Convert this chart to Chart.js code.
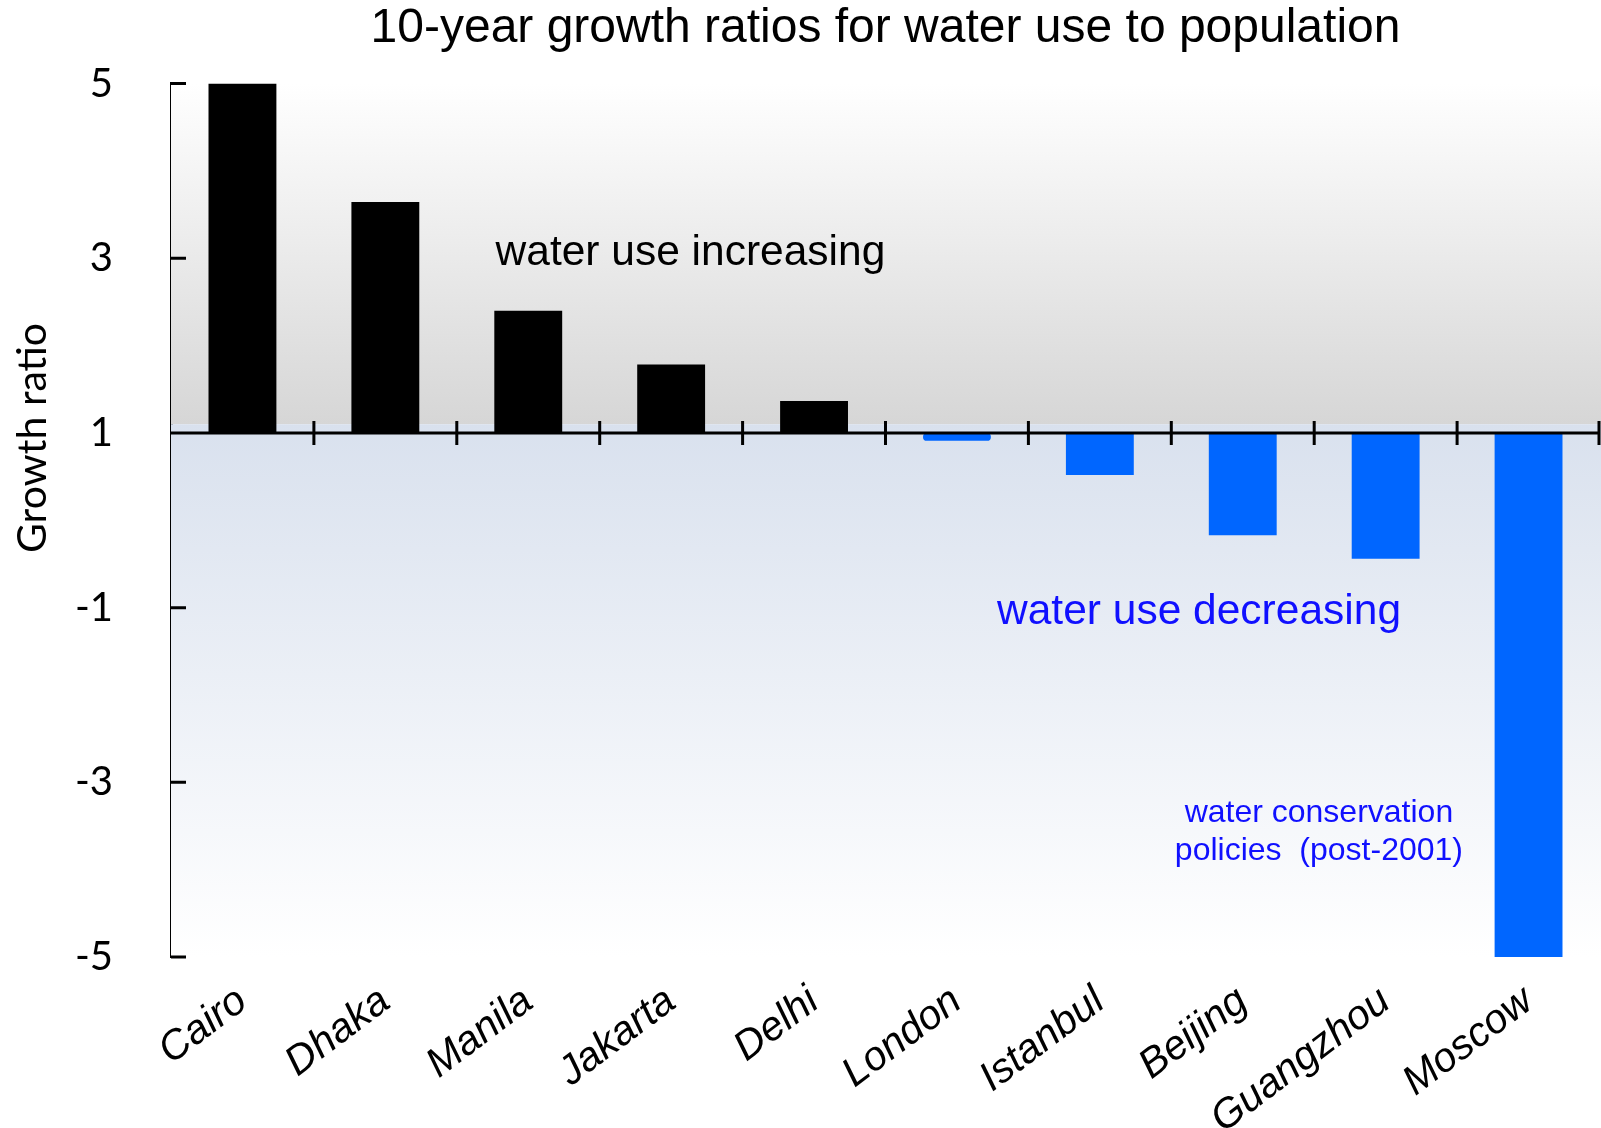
<!DOCTYPE html>
<html>
<head>
<meta charset="utf-8">
<script src="https://cdn.jsdelivr.net/npm/chart.js@4.4.0/dist/chart.umd.min.js"></script>
<style>
  html, body { margin: 0; padding: 0; background: #fff; }
</style>
</head>
<body>
<canvas id="growthChart" width="1601" height="1128"></canvas>
<script>
// values (bars start at a growth ratio of 1)
const cities = ["Cairo", "Dhaka", "Manila", "Jakarta", "Delhi", "London", "Istanbul", "Beijing", "Guangzhou", "Moscow"]
const growthRatios = [5, 3.645, 2.4, 1.785, 1.365, 0.91, 0.52, -0.17, -0.44, -5]
const yTicks = [5, 3, 1, -1, -3, -5]
const baseRatio = 1

const upColor = "#000000"
const downColor = "#0066ff"
const noteBlue = "#1010ff"

// background bands, axis-on-baseline, inward ticks and the notes
const decorations = {
  id: "decorations",
  beforeDatasetsDraw(chart) {
    const { ctx, chartArea, scales: { y } } = chart
    const top = y.getPixelForValue(5)
    const mid = y.getPixelForValue(1.1)
    const bottom = y.getPixelForValue(-5)
    const w = chart.width - chartArea.left

    ctx.save()
    let g = ctx.createLinearGradient(0, top, 0, mid)
    g.addColorStop(0, "#ffffff")
    g.addColorStop(1, "#d6d6d6")
    ctx.fillStyle = g
    ctx.fillRect(chartArea.left, top, w, mid - top)

    g = ctx.createLinearGradient(0, mid, 0, bottom)
    g.addColorStop(0, "#d9e1ee")
    g.addColorStop(1, "#ffffff")
    ctx.fillStyle = g
    ctx.fillRect(chartArea.left, mid, w, bottom - mid)
    ctx.restore()
  },
  afterDatasetsDraw(chart) {
    const { ctx, chartArea, scales: { x, y } } = chart
    const yBase = y.getPixelForValue(baseRatio)

    ctx.save()
    ctx.strokeStyle = "#000"
    ctx.lineWidth = 3
    ctx.beginPath()
    ctx.moveTo(chartArea.left, yBase)
    ctx.lineTo(chartArea.right, yBase)
    // category boundary ticks crossing the baseline
    for (let i = 1; i <= cities.length; i++) {
      const px = i < cities.length
        ? (x.getPixelForValue(i - 1) + x.getPixelForValue(i)) / 2
        : chartArea.right - 1
      ctx.moveTo(px, yBase - 12)
      ctx.lineTo(px, yBase + 12)
    }
    // y ticks pointing into the plot
    yTicks.forEach(v => {
      const py = y.getPixelForValue(v)
      ctx.moveTo(chartArea.left, py)
      ctx.lineTo(chartArea.left + 15, py)
    })
    ctx.stroke()

    ctx.textAlign = "center"
    ctx.textBaseline = "middle"
    ctx.fillStyle = "#000"
    ctx.font = "42.5px 'Liberation Sans', Arial, sans-serif"
    ctx.fillText("water use increasing", x.getPixelForValue(3.135), y.getPixelForValue(3.06))

    ctx.fillStyle = noteBlue
    ctx.fillText("water use decreasing", x.getPixelForValue(6.694), y.getPixelForValue(-1.05))

    ctx.font = "32px 'Liberation Sans', Arial, sans-serif"
    ctx.fillText("water conservation", x.getPixelForValue(7.533), y.getPixelForValue(-3.353))
    ctx.fillText("policies  (post-2001)", x.getPixelForValue(7.533), y.getPixelForValue(-3.79))

    // y axis title
    ctx.fillStyle = "#000"
    ctx.font = "41px Lato, 'Noto Sans', sans-serif"
    ctx.translate(33, yBase + 5)
    ctx.rotate(-Math.PI / 2)
    ctx.fillText("Growth ratio", 0, 0)
    ctx.restore()
  }
}

const chart = new Chart(document.getElementById("growthChart"), {
  type: "bar",
  data: {
    labels: cities,
    datasets: [
      {
        label: "Growth ratio",
        data: growthRatios,
        base: baseRatio,
        backgroundColor: growthRatios.map(v => (v >= baseRatio ? upColor : downColor)),
        borderRadius: ctx => (ctx.dataIndex === 5 ? 4 : 0),
        borderSkipped: ctx => (ctx.dataIndex === 5 ? false : "start"),
        categoryPercentage: 1,
        barPercentage: 0.475,
      },
    ],
  },
  options: {
    responsive: false,
    animation: false,
    layout: { padding: { top: 0, right: 1, bottom: 0, left: 0 } },
    plugins: {
      legend: { display: false },
      tooltip: { enabled: false },
      title: {
        display: true,
        text: "10-year growth ratios for water use to population",
        fullSize: false,
        color: "#000",
        font: { family: "'Liberation Sans', Arial, sans-serif", size: 48, weight: "normal" },
        padding: { top: 0, bottom: 26 },
      },
    },
    scales: {
      x: {
        grid: { display: false, drawTicks: false },
        border: { display: false },
        ticks: {
          autoSkip: false,
          minRotation: 37,
          maxRotation: 37,
          padding: 20,
          color: "#000",
          font: { family: "'Liberation Sans', Arial, sans-serif", size: 41, style: "italic" },
        },
        afterFit: scale => { scale.height = 171 },
      },
      y: {
        min: -5,
        max: 5,
        afterBuildTicks: scale => { scale.ticks = yTicks.map(v => ({ value: v })) },
        grid: { display: false, drawTicks: false },
        border: { display: true, color: "#000", width: 3 },
        ticks: {
          padding: 58,
          color: "#000",
          font: { family: "Lato, 'Noto Sans', sans-serif", size: 40 },
        },
        afterFit: scale => { scale.width = 171 },
      },
    },
  },
  plugins: [decorations],
})
</script>
</body>
</html>
